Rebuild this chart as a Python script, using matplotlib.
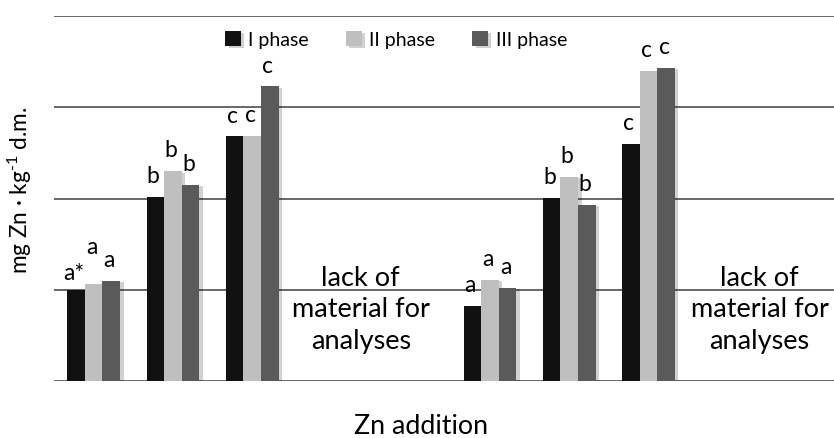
import numpy as np
import matplotlib
matplotlib.use('Agg')
import matplotlib.pyplot as plt
import matplotlib.patheffects as pe

plt.rcParams['font.family'] = ['Lato', 'DejaVu Sans']
plt.rcParams['mathtext.fontset'] = 'custom'
plt.rcParams['mathtext.rm'] = 'Lato'
plt.rcParams['mathtext.it'] = 'Lato'

# dane (jednostki = odstepy miedzy liniami siatki)
kategorie = list(range(10))
faza1 = [1.00, 2.02, 2.68, np.nan, np.nan, 0.82, 2.01, 2.60, np.nan, np.nan]
faza2 = [1.06, 2.30, 2.69, np.nan, np.nan, 1.11, 2.24, 3.40, np.nan, np.nan]
faza3 = [1.10, 2.15, 3.23, np.nan, np.nan, 1.02, 1.93, 3.43, np.nan, np.nan]
litery1 = ['a*', 'b', 'c', '', '', 'a', 'b', 'c', '', '']
litery2 = ['a', 'b', 'c', '', '', 'a', 'b', 'c', '', '']
litery3 = ['a', 'b', 'c', '', '', 'a', 'b', 'c', '', '']
nazwy = ['I phase', 'II phase', 'III phase']
kolory = ['#111111', '#bfbfbf', '#5a5a5a']
brak = 'lack of\nmaterial for\nanalyses'

fig = plt.figure(figsize=(8.34, 4.38), dpi=100)
ax = fig.add_axes([54/834, 1-381/438, 1-54/834, (381-16)/438])

x = np.array(kategorie, dtype=float)
w = 0.222
cien = [pe.withSimplePatchShadow(offset=(2.5, -1), shadow_rgbFace='k', alpha=0.18)]

serie = [faza1, faza2, faza3]
litery = [litery1, litery2, litery3]
# dodatkowe przesuniecia etykiet (pt) tam gdzie nachodza na siebie
przes = {(0, 0): -3, (0, 1): 12}

for i in range(3):
    pos = x + (i-1)*w
    bars = ax.bar(pos, serie[i], width=w, color=kolory[i], label=nazwy[i],
                  zorder=3)
    for b in bars:
        b.set_path_effects(cien)
    for j in range(len(kategorie)):
        if litery[i][j] == '':
            continue
        dy = 7 + przes.get((j, i), 0)
        ax.annotate(litery[i][j], (pos[j], serie[i][j]), xytext=(-1.5, dy),
                    textcoords='offset points', ha='center', va='bottom',
                    fontsize=16.5, zorder=4)

ax.text(3.37, 0.78, brak, ha='center', va='center', fontsize=19.5,
        linespacing=1.32)
ax.text(8.4, 0.78, brak, ha='center', va='center', fontsize=19.5,
        linespacing=1.32)

ax.set_xlim(-0.5, 9.34)
ax.set_ylim(0, 4)
ax.set_yticks([0, 1, 2, 3, 4])
ax.yaxis.grid(True, color='#5c5c5c', linewidth=1.3, zorder=0)
ax.set_axisbelow(True)
ax.tick_params(left=False, bottom=False, labelleft=False, labelbottom=False)
for s in ax.spines.values():
    s.set_visible(False)

fig.legend(loc='center', bbox_to_anchor=(396/834, 1-40/438), ncol=3,
           frameon=False, fontsize=14, handlelength=0.8, handleheight=0.8,
           handletextpad=0.4, columnspacing=1.9)

fig.text(20/834, 1-190/438, 'mg Zn · kg$^{\\text{-}1}$ d.m.', rotation=90,
         ha='center', va='center', fontsize=16.3)
fig.text(421/834, 1-427/438, 'Zn addition', ha='center', va='center',
         fontsize=19.3)

plt.savefig('out.png', dpi=100)
